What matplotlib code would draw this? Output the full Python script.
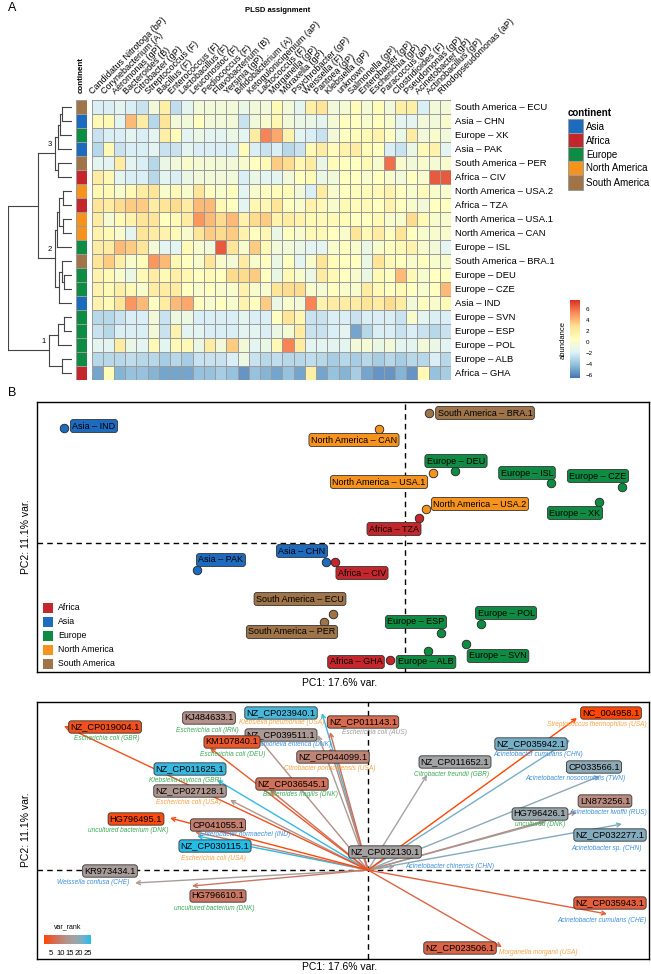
import numpy as np
import matplotlib.pyplot as plt
import matplotlib.colors as mcolors
from matplotlib.patches import Rectangle
from matplotlib.cm import ScalarMappable

plt.rcParams['font.family'] = ['Liberation Sans', 'DejaVu Sans']

# ---------------- data ----------------
genera = ['Candidatus Nitrotoga (bP)', 'Corynebacterium (A)', 'Aeromonas (gP)', 'Bacteroides (B)',
          'Citrobacter (gP)', 'Streptococcus (F)', 'Bacillus (F)', 'Enterococcus (F)',
          'Lactobacillus (F)', 'Leuconostoc (F)', 'Pediococcus (F)', 'Flavobacterium (B)',
          'Yersinia (gP)', 'Bifidobacterium (A)', 'Ketogulonicigenium (aP)', 'Lactococcus (F)',
          'Morganella (gP)', 'Moraxella (gP)', 'Psychrobacter (gP)', 'Weissella (F)',
          'Pantoea (gP)', 'Klebsiella (gP)', 'unknown', 'Salmonella (gP)', 'Enterobacter (gP)',
          'Escherichia (gP)', 'Paracoccus (aP)', 'Clostridioides (F)', 'Pseudomonas (gP)',
          'Acinetobacter (gP)', 'Actinobacillus (gP)', 'Rhodopseudomonas (aP)']

samples = ['ECU', 'CHN', 'XK', 'PAK', 'PER', 'CIV', 'USA.2', 'TZA', 'USA.1', 'CAN',
           'ISL', 'BRA.1', 'DEU', 'CZE', 'IND', 'SVN', 'ESP', 'POL', 'ALB', 'GHA']
continent = ['South America', 'Asia', 'Europe', 'Asia', 'South America', 'Africa',
             'North America', 'Africa', 'North America', 'North America', 'Europe',
             'South America', 'Europe', 'Europe', 'Asia', 'Europe', 'Europe', 'Europe',
             'Europe', 'Africa']

abundance = np.array([
    [-2, -2, -1.5, -2, -2.5, -0.5, 1.8, -2.8, -1.5, -0.5, -0.5, -0.5, -0.5, -1, -0.5, -0.5, 1, -0.5, -1.5, 1.8, 2.5, -0.5, -0.3, 0.8, -0.3, 0.8, -0.5, 1.8, 1.8, -2, -0.5, -0.5],
    [1, 1, -1.5, 4, 2, -3, 2.5, -0.5, -0.5, 0.5, -0.5, -0.5, -0.5, -2.5, -0.5, 0, 1.2, -0.5, -1, -1, -1.5, -0.3, 0.5, 0.5, 0, 0.5, 0, -1.5, -1.5, -0.5, -0.5, 0],
    [-2.5, -2, -2, -1.5, -2, -1.5, 1.8, 0.8, -1.5, -1, -1.5, -1.5, -1, -1.5, 2, 5.5, 4.5, 1.5, -1.5, -2, -2.5, -0.5, 0.5, 0.8, 1, 1.5, 0.5, -1, 2, -0.5, 0, -0.5],
    [-3, 1, -2.5, -2, -2, -1.5, -2.5, -2.5, -1.5, -2, -2, -2, -2, 0.8, -2, -2.5, -2, -3, -2.5, 1, 2, 0.8, 1.5, 2, 0.8, 0.5, -2, -2.5, -1, 1, 1.5, -1.5],
    [-1.5, -1.5, 2, -1.5, -2, -3, -1, -0.5, 0, -0.3, -0.3, -0.5, -0.5, 0, 0.5, 1, 3.5, 3, 1.2, 2, -1, 0.8, 0.5, 0.5, 1, 0, 6, 0, -0.5, 0, -0.3, 0],
    [2, 1.2, -1.5, -2, -2, -3, -1.5, -2, -1, -0.5, -0.5, -0.5, -0.5, -2, -1, -1.5, -1.5, -0.5, 0.5, 1, -1, -0.5, 0.5, 0.5, 0, 0.5, 0, -0.5, 0.5, 0, 6.5, 6.5],
    [1.2, 1, 0, 1, 2, 2.5, 0, 1, 0, 2.5, 0.5, 0, 0.5, -1.5, 0, 0.5, 0.8, 0.8, -0.5, -2, 2, 0, 0.5, 0.8, 0.8, 1, 1.5, 0.5, 0, 0.8, 0, 0],
    [2.5, 2, 3, 3.5, 3.5, 2, 2.5, 3, 2, 4, 4, 1, 0.5, -1.5, 1.2, 1.2, 2.5, 0.5, 0, 1.5, 1, 0, 1, 0.8, 1, 0.5, 1.5, 0.5, 0, -0.5, 0.5, 0.5],
    [2, -0.3, 1, 1.5, 2.5, 2.5, 0.5, 1, 2, 5, 4, 3, 4, 1.5, 3, 3.5, 1.5, 2, 1.5, 1, 1, 1, 0.8, 0.5, 0.5, 1, 0, 0, 3, 1, 0, 0],
    [1.5, 1, 0, -1.5, 2.5, 2, 1.5, 1, 0, 2.5, 3.5, 3, 3.5, 1.5, 0.5, 1.2, -1, 0.5, 0, 1, 1, 0.5, 0, 2.5, 1, 2, 0.5, 2.5, 0.5, 0, 0, 0],
    [2, 2, 4, 3.5, 2.5, -0.3, -1.5, -1.5, 1, 0, -0.5, 6.5, 2.5, 0, 3.5, 1, -0.5, -0.5, -1, -1.5, -1.5, 0, 0.5, 0, -1, 0, 0.5, 1, 1.5, 0, -0.5, -1.5],
    [2.5, 3.5, 1.8, 0, 0.8, 5, 4, 1.2, 0.5, 0, 2.5, 0, -0.3, 2, 0, 0.5, -1, 0.5, -1.5, 0, 2.5, 0.8, 0.5, 0.5, -1, 2.5, 1, 0.5, 0, 0.5, 0, 0],
    [1.5, 1, 0, -1, 1, 2, 1, 1.8, 1.2, 0.5, 1, 0.5, 3, 3, 3.5, 0.5, -1, 1, 0, -1, 2, 1, 0.5, 0, -1, 1, 0.5, 4, 1, 0, 0.5, 0.5],
    [1.5, 1, 1.8, 1, 0, 2, 2, 2, 0.5, 0, 0.5, 0, 0, 1.5, 0, 0, 2.5, 3, 3, 0, -0.3, 0.5, 0, 0, 2, 1, 0.5, 1, 0.5, 0, 0.5, 4],
    [1.5, 1, 2.5, 5, 4, 0.5, 2, 4, 4.5, 0.5, 0, 0.5, 0, 1.5, 0.5, 3.5, -1, 0, -0.5, 5.5, 1.5, 2, 2, 2, 2.5, 2, 3, 2, -0.5, 0.5, 0, 1],
    [-3, -3, -2.5, -2, -2, -0.5, -2.5, -0.8, -0.8, -2, -2, -2, -2, -1.5, -2, -2, 0.5, 2.5, 1.2, -2.5, -2.5, -2, -2, -2.5, -2, -2, -2, -2.5, 0, -1.5, -2, -2],
    [-2.5, -3, -2, -2, -2, -0.5, -2.5, 1.5, -1.5, -1.5, -2, -2, -2, -1.5, -1.5, -2, -1, -0.3, 2, -2.5, -2.5, -2, -1.5, -5, -3, -2, -2, -2.5, -2, -2.5, -3, -2.5],
    [-1.5, -1.5, 2, -1, -1.5, 1, -1.5, 1, 1, -1, 2, -0.5, 3.5, -0.5, -1.5, -1, 1, 5.5, 2, -1.5, -1.5, -1.5, -1.5, -0.5, -0.3, -1, -0.5, -1.5, -1.5, -0.5, -1, -1.5],
    [-3, -3, -3, -2.8, -3, -3, -3.5, -3, -3.5, -2.5, -2.5, -2.5, -2, -0.8, -2.5, -3, -2.8, -3, -3, -2.8, -3, -3.5, -3, -3.5, -3, -3.5, -3, -3.5, -3, -3, -2, -3],
    [-5, 0.8, -4.5, -4, -4, -4.5, -5, -5, -5, -4, -4, -3.5, -4, -5.5, -4, -4.5, -5, -4, -5, 1.8, -5, -4, -4.5, -3.5, -5, -5.5, -5.5, -4.5, -5.5, 1, -4, -3.5],
])

# row clustering: (left, right, height); ids >= 20 refer to earlier merges
merges = [(0, 1, 10), (20, 2, 12), (21, 3, 14), (4, 5, 14), (22, 23, 17),
          (6, 7, 9), (8, 9, 9), (25, 26, 13), (27, 10, 15),
          (12, 13, 8), (11, 29, 10), (30, 14, 13), (28, 31, 17),
          (24, 32, 33),
          (15, 16, 8), (34, 17, 14), (18, 19, 10), (35, 36, 23),
          (33, 37, 63)]
cluster_nodes = {24: '3', 32: '2', 37: '1'}

# PCA scores (same order as samples)
pc1 = [-3.6, -3.95, 9.7, -10.4, -4.05, -3.5, 1.05, 0.7, 1.4, -1.3,
       7.3, 1.2, 2.5, 10.85, -17.05, 3.05, 1.8, 3.8, 1.15, -0.75]
pc2 = [-3.55, -0.95, 2.05, -1.35, -3.95, -0.95, 1.7, 1.25, 3.5, 5.7,
       3.0, 6.5, 3.6, 2.8, 5.75, -5.05, -4.5, -4.05, -5.4, -5.85]

# biplot loadings
accession = ['NZ_CP019004.1', 'KJ484633.1', 'NZ_CP023940.1', 'NZ_CP039511.1', 'KM107840.1',
             'NZ_CP044099.1', 'NZ_CP011143.1', 'NZ_CP011625.1', 'NZ_CP036545.1', 'NZ_CP027128.1',
             'HG796495.1', 'CP041055.1', 'NZ_CP030115.1', 'KR973434.1', 'HG796610.1',
             'NZ_CP032130.1', 'HG796426.1', 'LN873256.1', 'NZ_CP032277.1', 'NZ_CP035943.1',
             'NZ_CP023506.1', 'NC_004958.1', 'NZ_CP035942.1', 'CP033566.1', 'NZ_CP011652.1']
organism = ['Escherichia coli (GBR)', 'Escherichia coli (IRN)', 'Klebsiella pneumoniae (USA)',
            'Salmonella enterica (DNK)', 'Escherichia coli (DEU)', 'Citrobacter portucalensis (USA)',
            'Escherichia coli (AUS)', 'Klebsiella oxytoca (GBR)', 'Bacteroides fragilis (DNK)',
            'Escherichia coli (USA)', 'uncultured bacterium (DNK)', 'Enterobacter hormaechei (IND)',
            'Escherichia coli (USA)', 'Weissella confusa (CHE)', 'uncultured bacterium (DNK)',
            'Acinetobacter chinensis (CHN)', 'uncultured (DNK)', 'Acinetobacter lwoffii (RUS)',
            'Acinetobacter sp. (CHN)', 'Acinetobacter cumulans (CHE)', 'Morganella morganii (USA)',
            'Streptococcus thermophilus (USA)', 'Acinetobacter cumulans (CHN)',
            'Acinetobacter nosocomialis (TWN)', 'Citrobacter freundii (GBR)']
org_group = ['green', 'green', 'orange', 'blue', 'green', 'orange', 'gray', 'green', 'green',
             'orange', 'green', 'blue', 'orange', 'blue', 'green', 'blue', 'green', 'blue',
             'blue', 'blue', 'orange', 'orange', 'blue', 'blue', 'green']
var_rank = [3, 13, 25, 15, 4, 11, 7, 26, 8, 14, 2, 10, 27, 16, 9,
            17, 19, 12, 21, 5, 6, 1, 22, 20, 18]
load_pc1 = [-15.2, -5.9, -2.3, -2.5, -7.9, -1.9, -1.9, -7.55, -4.9, -6.9, -9.9, -8.65, -8.55,
            -11.65, -8.8, 1.35, 8.85, 10.45, 12.7, 11.95, 6.7, 10.45, 10.1, 11.6, 2.95]
load_pc2 = [7.2, 7.1, 7.85, 6.75, 6.1, 6.1, 6.9, 4.5, 4.0, 3.5, 2.6, 1.9, 1.7,
            -0.65, -0.8, 0.2, 2.4, 2.9, 2.3, -2.2, -3.85, 7.6, 6.5, 4.7, 4.75]

# ---------------- styles / layout ----------------
cont_colors = {'Asia': '#1C6BBE', 'Africa': '#C5262C', 'Europe': '#0E8C44',
               'North America': '#F6921E', 'South America': '#9E7448'}
org_colors = {'green': '#3BA957', 'blue': '#3B8ED9', 'orange': '#F7A244', 'gray': '#9B9B9B'}
hm_cmap = mcolors.LinearSegmentedColormap.from_list(
    'rdylbu', ['#4575B4', '#91BFDB', '#E0F3F8', '#FFFFBF', '#FEE090', '#FC8D59', '#D73027'])
hm_norm = mcolors.Normalize(-6.5, 7.6)
rank_cmap = mcolors.LinearSegmentedColormap.from_list(
    'vr', ['#FF4500', '#E0603F', '#C57C6A', '#AE9690', '#A0A4A6', '#6FB0CB', '#25BCE6'])
rank_norm = mcolors.Normalize(1, 27)

# label offsets (pixels, up positive)
b_offsets = [(-33, 15), (-24, 11), (-24, -11), (24, 10), (-32, -10), (27, -11), (54, 5),
             (-25, -11), (-54, -9), (-25, -11), (-24, 10), (56, 0), (1, 10), (-24, 11),
             (30, 2), (32, -12), (-25, 11), (25, 11), (-2, -11), (-34, -2)]
c_label_off = [(41, -1), (-41, 10), (-41, 0), (-37, 0), (22, 6), (3, -9), (33, 10), (-27, 11),
               (22, 6), (-40, 9), (-34, -1), (23, 7), (18, -10), (-25, 12), (26, -10), (-10, 14),
               (-5, 8), (28, 11), (-12, -11), (3, 11), (-42, -1), (34, 5), (-39, -4), (-6, 9),
               (28, 13)]
c_sub_off = [(43, -12), (-43, -3), (-40, -10), (-25, -10), (23, -6), (0, -20), (44, 0), (-32, 0),
             (30, -5), (-42, -3), (-42, -13), (50, -3), (16, -23), (-42, 0), (22, -22), (55, 0),
             (-5, -2), (31, 0), (-15, -24), (-5, -6), (36, -5), (20, -6), (-32, -15), (-25, -2),
             (25, 0)]

W, H = 651, 974
fig = plt.figure(figsize=(W / 100, H / 100), dpi=100)


def px_axes(x0, y0, x1, y1):
    return fig.add_axes([x0 / W, 1 - y1 / H, (x1 - x0) / W, (y1 - y0) / H])


def ftext(x, y, s, **kw):
    fig.text(x / W, 1 - y / H, s, **kw)


def frect(x, y, w, h, **kw):
    fig.add_artist(Rectangle((x / W, 1 - (y + h) / H), w / W, h / H,
                             transform=fig.transFigure, **kw))


n = len(samples)

# ---------------- panel A: heatmap ----------------
ftext(8, 8, 'A', fontsize=9, va='center')
ftext(278, 10, 'PLSD assignment', fontsize=5.5, fontweight='bold', ha='center', va='center')

ax = px_axes(91.5, 100, 451, 380)
ax.pcolormesh(abundance, cmap=hm_cmap, norm=hm_norm, edgecolors='#9b9b9b', linewidth=0.7)
ax.set_xlim(0, len(genera))
ax.set_ylim(n, 0)
ax.axis('off')
for j, g in enumerate(genera):
    ax.text(j + 0.25, -0.3, g, rotation=45, ha='left', va='bottom', rotation_mode='anchor',
            fontsize=6.5, clip_on=False)
for i, s in enumerate(samples):
    ax.text(len(genera) + 0.35, i + 0.5, f'{continent[i]} – {s}', va='center', ha='left',
            fontsize=6.8, clip_on=False)

ax_a = px_axes(76, 100, 87, 380)
for i, c in enumerate(continent):
    ax_a.add_patch(Rectangle((0, i), 1, 1, fc=cont_colors[c], ec='#9b9b9b', lw=0.7))
ax_a.set_xlim(0, 1)
ax_a.set_ylim(n, 0)
ax_a.axis('off')
ax_a.text(0.5, -0.5, 'continent', rotation=90, ha='center', va='bottom', fontsize=5.8,
          fontweight='bold', clip_on=False)

# dendrogram
ax_d = px_axes(8, 100, 72, 380)
pos = {i: i + 0.5 for i in range(n)}
hgt = {i: 0.0 for i in range(n)}
for k, (a, b, h) in enumerate(merges):
    for c in (a, b):
        ax_d.plot([hgt[c], h], [pos[c], pos[c]], color='#444444', lw=0.8)
    ax_d.plot([h, h], [pos[a], pos[b]], color='#444444', lw=0.8)
    pos[n + k] = (pos[a] + pos[b]) / 2
    hgt[n + k] = h
for node, lab in cluster_nodes.items():
    ax_d.text(hgt[node] + 5, pos[node] - 0.35, lab, fontsize=5.5, ha='center', va='bottom')
ax_d.set_xlim(63, 0)
ax_d.set_ylim(n, 0)
ax_d.axis('off')

# continent legend
ftext(568, 113, 'continent', fontsize=7, fontweight='bold', va='center')
for k, name in enumerate(['Asia', 'Africa', 'Europe', 'North America', 'South America']):
    yc = 126.5 + k * 14
    frect(568, yc - 7, 15, 14, fc=cont_colors[name], ec='#9b9b9b', lw=0.7)
    ftext(586, yc, name, fontsize=7, va='center')

# abundance colorbar
ax_cb = px_axes(570, 300, 580, 378)
cb = fig.colorbar(ScalarMappable(norm=hm_norm, cmap=hm_cmap), cax=ax_cb,
                  ticks=[-6, -4, -2, 0, 2, 4, 6])
cb.outline.set_visible(False)
cb.ax.set_yticklabels(['−6', '−4', '−2', '0', '2', '4', '6'])
cb.ax.tick_params(labelsize=4.5, length=2, width=0.4, color='white', pad=2)
ftext(563, 340, 'abundance', rotation=90, fontsize=5.5, ha='center', va='center')

# ---------------- panel B: PCA scores ----------------
ftext(8, 393, 'B', fontsize=9, va='center')
ax_b = px_axes(36.7, 402, 649, 672)
ax_b.set_xlim(-18.415, 12.2)
ax_b.set_ylim(-6.45, 7.05)
ax_b.set_xticks([])
ax_b.set_yticks([])
for sp in ax_b.spines.values():
    sp.set_linewidth(1.0)
ax_b.axhline(0, color='black', lw=1, ls=(0, (4, 3)))
ax_b.axvline(0, color='black', lw=1, ls=(0, (4, 3)))
for i, s in enumerate(samples):
    col = cont_colors[continent[i]]
    ax_b.scatter(pc1[i], pc2[i], s=38, c=col, edgecolors='#222222', linewidths=0.6, zorder=3)
    ax_b.annotate(f'{continent[i]} – {s}', (pc1[i], pc2[i]), xytext=b_offsets[i],
                  textcoords='offset pixels', ha='center', va='center', fontsize=6.5, zorder=4,
                  bbox=dict(boxstyle='round,pad=0.22,rounding_size=0.3', fc=col, ec='#333333',
                            lw=0.6))
for k, name in enumerate(['Africa', 'Asia', 'Europe', 'North America', 'South America']):
    yc = 607.5 + k * 14
    frect(43, yc - 5, 10, 10, fc=cont_colors[name], ec='none')
    ftext(58, yc, name, fontsize=6.3, va='center')
ftext(340, 683, 'PC1: 17.6% var.', fontsize=7.5, ha='center', va='center')
ftext(26, 537, 'PC2: 11.1% var.', fontsize=7.5, ha='center', va='center', rotation=90)

# ---------------- panel C: biplot ----------------
ax_c = px_axes(36.7, 702, 649, 959)
ax_c.set_xlim(-16.565, 14.05)
ax_c.set_ylim(-4.45, 8.4)
ax_c.set_xticks([])
ax_c.set_yticks([])
for sp in ax_c.spines.values():
    sp.set_linewidth(1.0)
ax_c.axhline(0, color='black', lw=1, ls=(0, (4, 3)))
ax_c.axvline(0, color='black', lw=1, ls=(0, (4, 3)))
order = np.argsort(var_rank)[::-1]
for i in order:
    col = rank_cmap(rank_norm(var_rank[i]))
    ax_c.annotate('', xy=(load_pc1[i], load_pc2[i]), xytext=(0, 0),
                  arrowprops=dict(arrowstyle='->', color=col, lw=1.0, shrinkA=0, shrinkB=0,
                                  mutation_scale=7))
for i in order:
    col = rank_cmap(rank_norm(var_rank[i]))
    ax_c.annotate(accession[i], (load_pc1[i], load_pc2[i]), xytext=c_label_off[i],
                  textcoords='offset pixels', ha='center', va='center', fontsize=6.7, zorder=4,
                  bbox=dict(boxstyle='round,pad=0.18,rounding_size=0.3', fc=col, ec='#333333',
                            lw=0.6))
    ax_c.annotate(organism[i], (load_pc1[i], load_pc2[i]), xytext=c_sub_off[i],
                  textcoords='offset pixels', ha='center', va='center', fontsize=4.7,
                  style='italic', color=org_colors[org_group[i]], zorder=4)

ax_r = px_axes(44, 935, 91, 944)
rb = fig.colorbar(ScalarMappable(norm=rank_norm, cmap=rank_cmap), cax=ax_r,
                  orientation='horizontal', ticks=[5, 10, 15, 20, 25])
rb.outline.set_visible(False)
rb.ax.tick_params(labelsize=5.5, length=2, width=0.4, color='white', pad=2)
ftext(68, 927, 'var_rank', fontsize=5, ha='center', va='center')
ftext(340, 967, 'PC1: 17.6% var.', fontsize=7.5, ha='center', va='center')
ftext(26, 830, 'PC2: 11.1% var.', fontsize=7.5, ha='center', va='center', rotation=90)

fig.savefig('out.png', dpi=100)
